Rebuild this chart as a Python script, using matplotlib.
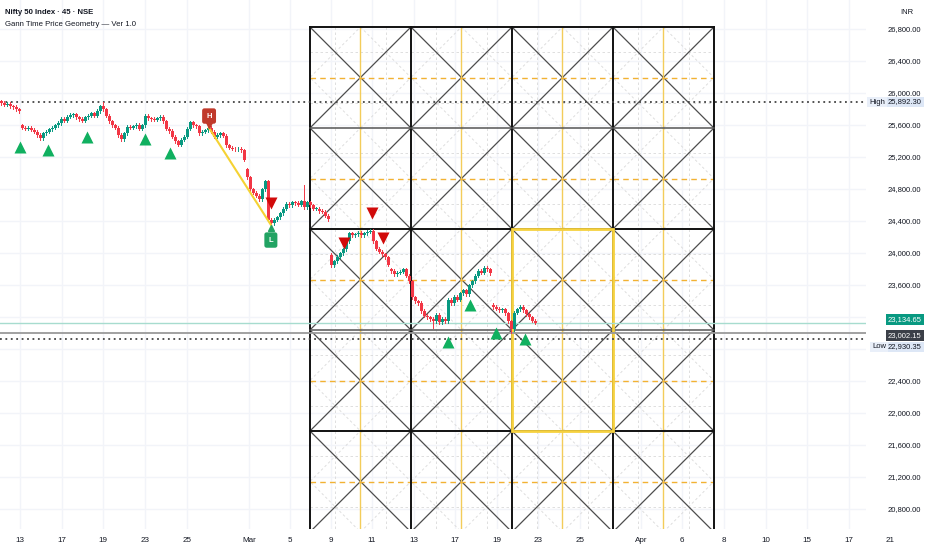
import matplotlib
matplotlib.use("Agg")
import matplotlib.pyplot as plt
import matplotlib.transforms as mtransforms
from matplotlib.patches import Rectangle

plt.rcParams['font.family'] = ['Liberation Sans', 'DejaVu Sans']

# 45 min closes, one per bar (bar index on x)
closes = [
    25880, 25860, 25870, 25840, 25830, 25800, 25780, 25570, 25560, 25570,
    25545, 25520, 25480, 25440, 25500, 25520, 25550, 25570, 25600, 25630,
    25680, 25660, 25710, 25730, 25740, 25700, 25680, 25660, 25700, 25720,
    25750, 25720, 25780, 25840, 25800, 25720, 25650, 25600, 25570, 25480,
    25430, 25500, 25580, 25570, 25590, 25610, 25560, 25600, 25720, 25690,
    25680, 25670, 25690, 25710, 25650, 25560, 25530, 25460, 25400, 25360,
    25420, 25460, 25560, 25640, 25600, 25590, 25500, 25520, 25540, 25570,
    25520, 25460, 25480, 25500, 25470, 25350, 25320, 25310, 25300, 25310,
    25290, 25170, 24950, 24800, 24760, 24720, 24680, 24800, 24900, 24420,
    24380, 24420, 24450, 24500, 24560, 24620, 24600, 24640, 24630, 24610,
    24650, 24580, 24640, 24600, 24560, 24560, 24530, 24520, 24470, 24430,
    23850, 23900, 23960, 24000, 24050, 24150, 24250, 24230, 24240, 24260,
    24230, 24250, 24270, 24280, 24150, 24060, 24020, 23990, 23950, 23860,
    23780, 23740, 23760, 23770, 23800, 23720, 23650, 23450, 23400, 23380,
    23280, 23220, 23200, 23180, 23150, 23230, 23140, 23180, 23150, 23420,
    23380, 23460, 23420, 23500, 23540, 23490, 23600, 23650, 23720, 23780,
    23760, 23820, 23800, 23750, 23330, 23310, 23290, 23300, 23250, 23150,
    23050, 23260, 23300, 23330, 23290, 23240, 23200, 23160, 23134.65,
]
first_open = 25900
gap_bars = [7, 82, 110, 130, 164]
gap_opens = [25600, 25050, 23980, 23800, 23360]
spike_bars = [34, 69, 101, 40, 90, 144, 170]
spike_vals = [25890, 25600, 24860, 25400, 24340, 23070, 23000]

buy_x = [6.2, 15.6, 28.6, 47.8, 56.2, 148.8, 156.2, 164.8, 174.5]
buy_y = [25330, 25292, 25455, 25430, 25255, 22893, 23355, 23005, 22930]
sell_x = [89.8, 114.2, 123.5, 127.2]
sell_y = [24630, 24130, 24505, 24192]

swing_high = (69.2, 25567)
swing_low = (89.8, 24357)

# Gann box levels
grid_cols = [102.83, 136.5, 170.17, 203.83, 237.5]
grid_rows = [26830, 25567.5, 24305, 23042.5, 21780, 20517.5]
box_cols = (170.17, 203.83)
box_rows = (21780, 24305)

price_ticks = [20800, 21200, 21600, 22000, 22400, 22800, 23200, 23600,
               24000, 24400, 24800, 25200, 25600, 26000, 26400, 26800]
hidden_ticks = [22800, 23200]  # covered by the price tags
date_pos = [6.2, 20.2, 33.8, 47.8, 61.8, 82.5, 96.2, 109.8, 123.5, 137.5, 151.2,
            165.2, 178.8, 192.8, 213.2, 226.8, 240.8, 254.8, 268.5, 282.5, 296.2]
date_labels = ['13', '17', '19', '23', '25', 'Mar', '5', '9', '11', '13', '17',
               '19', '23', '25', 'Apr', '6', '8', '10', '15', '17', '21']

high_level = 25892.30
low_level = 22930.35
last_price = 23134.65
prev_price = 23002.15

W, H = 932, 550
fig = plt.figure(figsize=(W / 100, H / 100), dpi=100)
ax = fig.add_axes([0, 21 / H, 866 / W, 529 / H])
ax.set_xlim(-0.5, 288.2)
ax.set_ylim(20555, 27167.5)
for s in ax.spines.values():
    s.set_visible(False)
ax.set_xticks([])
ax.set_yticks([])

# faint background grid
for p in price_ticks:
    ax.axhline(p, color='#f2f4f9', lw=1, zorder=0)
for x in date_pos:
    ax.axvline(x, color='#f2f4f9', lw=1, zorder=0)

# --- Gann grid ---
cw = grid_cols[1] - grid_cols[0]
rh = grid_rows[0] - grid_rows[1]
x0, x1 = grid_cols[0], grid_cols[-1]
ytop, ybot = grid_rows[0], grid_rows[-1]
fine = dict(color='#d9d9d9', lw=0.6, ls=(0, (3, 3)), zorder=1)
for c in grid_cols[:-1]:
    for r in grid_rows[:-1]:
        cx, cy = c + cw / 2, r - rh / 2
        # quarter lines
        for q in (0.25, 0.75):
            ax.plot([c + q * cw] * 2, [r, r - rh], **fine)
            ax.plot([c, c + cw], [r - q * rh] * 2, **fine)
        # diamond through edge midpoints
        ax.plot([cx, c + cw, cx, c, cx], [r, cy, r - rh, cy, r], **fine)
        # main diagonals
        ax.plot([c, c + cw], [r, r - rh], color='#4d4d4d', lw=0.9, zorder=2)
        ax.plot([c, c + cw], [r - rh, r], color='#4d4d4d', lw=0.9, zorder=2)
        # mid lines
        ax.plot([cx, cx], [r, r - rh], color='#f3cc5a', lw=1.0, zorder=2)
        ax.plot([c, c + cw], [cy, cy], color='#f2b233', lw=1.0,
                ls=(0, (4, 3)), zorder=2)

for c in grid_cols:
    ax.plot([c, c], [ytop, ybot], color='#111111', lw=1.4, zorder=3)
for i, r in enumerate(grid_rows):
    if i % 2 == 0:
        ax.plot([x0, x1], [r, r], color='#111111', lw=1.4, zorder=3)
    else:
        ax.plot([x0, x1], [r, r], color='#555555', lw=1.1, zorder=3)

ax.add_patch(Rectangle((box_cols[0], box_rows[0]), box_cols[1] - box_cols[0],
                       box_rows[1] - box_rows[0], fill=False,
                       ec='#f6d13f', lw=2, zorder=3.5))

# price lines
ax.axhline(last_price, color='#a7dccf', lw=1, zorder=4)
ax.axhline(prev_price, color='#9a9a9a', lw=1.3, zorder=4)
ax.axhline(high_level, color='#444444', lw=1.3, ls=(0, (1, 2)), zorder=4)
ax.axhline(low_level, color='#444444', lw=1.3, ls=(0, (1, 2)), zorder=4)

# --- candles ---
up_c, dn_c = '#089981', '#f23645'
prev = first_open
for i, c in enumerate(closes):
    o = prev
    if i in gap_bars:
        o = gap_opens[gap_bars.index(i)]
    hi = max(o, c) + 20
    lo = min(o, c) - 20
    if i in spike_bars:
        v = spike_vals[spike_bars.index(i)]
        hi = max(hi, v)
        lo = min(lo, v)
    col = up_c if c >= o else dn_c
    ax.plot([i, i], [lo, hi], color=col, lw=0.7, zorder=5)
    ax.bar(i, max(abs(c - o), 10), bottom=min(o, c), width=0.8,
           color=col, lw=0, zorder=5)
    prev = c

# swing line and H/L tags
ax.plot([swing_high[0], swing_low[0]], [swing_high[1], swing_low[1]],
        color='#f5d233', lw=1.5, zorder=5.5)
ax.plot(swing_high[0], swing_high[1] + 40, marker='v', color='#c0392b',
        ms=4, zorder=6)
ax.text(swing_high[0], 25717, 'H', color='white', fontsize=5.5,
        fontweight='bold', ha='center', va='center', zorder=7,
        bbox=dict(boxstyle='round,pad=0.55,rounding_size=0.3',
                  fc='#c0392b', ec='none'))
ax.plot(swing_low[0], swing_low[1] - 40, marker='^', color='#22a363',
        ms=4, zorder=6)
ax.text(swing_low[0], 24167, 'L', color='white', fontsize=5.5,
        fontweight='bold', ha='center', va='center', zorder=7,
        bbox=dict(boxstyle='round,pad=0.55,rounding_size=0.3',
                  fc='#22a363', ec='none'))

ax.plot(buy_x, buy_y, ls='none', marker='^', ms=8, color='#10b060',
        mec='none', zorder=6)
ax.plot(sell_x, sell_y, ls='none', marker='v', ms=8, color='#d10a0a',
        mec='none', zorder=6)

# --- text ---
fig.text(5 / W, 1 - 12 / H, 'Nifty 50 Index · 45 · NSE', fontsize=5.6,
         fontweight='bold', color='#131722', va='center')
fig.text(5 / W, 1 - 25 / H, 'Gann Time Price Geometry — Ver 1.0', fontsize=5.6,
         color='#131722', va='center')
fig.text(900 / W, 1 - 12 / H, 'INR', fontsize=5.5, color='#131722', va='center')

trans_r = mtransforms.blended_transform_factory(fig.transFigure, ax.transData)
lx = 888 / W
for p in price_ticks:
    if p in hidden_ticks:
        continue
    ax.text(lx, p, f'{p:,.2f}', transform=trans_r, fontsize=5.5,
            color='#131722', ha='left', va='center', clip_on=False, zorder=8)


def tag(text, price, dy, fc, tc, x=lx):
    ax.annotate(text, xy=(x, price), xycoords=trans_r, xytext=(0, dy),
                textcoords='offset pixels', fontsize=5.5, color=tc,
                ha='left', va='center', annotation_clip=False, zorder=9,
                bbox=dict(boxstyle='square,pad=0.25', fc=fc, ec='none'))


tag(f'{high_level:,.2f}', high_level, 0, '#dde7f6', '#131722')
tag('High', high_level, 0, '#e9eff9', '#131722', x=869 / W)
tag(f'{last_price:,.2f}', last_price, 3, '#089981', 'white')
tag(f'{prev_price:,.2f}', prev_price, -2, '#3b3f48', 'white')
tag(f'{low_level:,.2f}', low_level, -8, '#dde7f6', '#131722')
tag('Low', low_level, -8, '#e9eff9', '#131722', x=872 / W)

trans_b = mtransforms.blended_transform_factory(ax.transData, fig.transFigure)
for x, lab in zip(date_pos, date_labels):
    ax.text(x, 10 / H, lab, transform=trans_b, fontsize=5.8, color='#131722',
            ha='center', va='center', clip_on=False)

fig.savefig('out.png', dpi=100, facecolor='white')
